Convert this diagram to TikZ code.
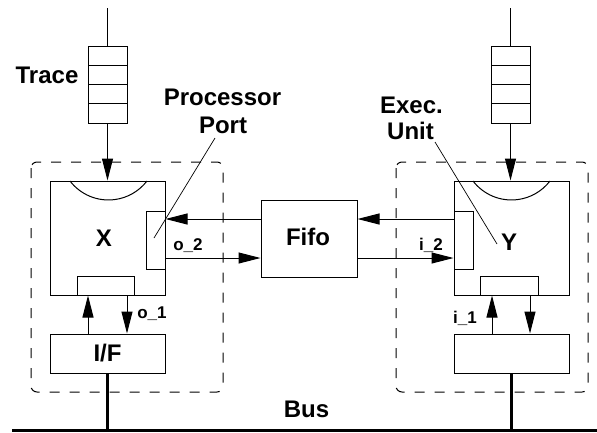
\documentclass[tikz,border=0pt]{standalone}
\usepackage{fontspec}
\setmainfont{Liberation Sans}
\usetikzlibrary{arrows.meta,calc}
\begin{document}
\begin{tikzpicture}[x=1pt,y=-1pt,
  line width=1pt,
  box/.style={draw,rectangle,inner sep=0pt,line width=1pt},
  cellbox/.style={draw,rectangle,inner sep=0pt,minimum width=39pt,minimum height=19.25pt,line width=1pt},
  arr/.style={-{Triangle[length=22pt,width=11pt]},line width=1pt},
  dashbox/.style={draw,dash pattern=on 10pt off 10pt,rounded corners=6pt,line width=1pt},
  big/.style={font=\bfseries\fontsize{24}{26}\selectfont,inner sep=0pt,anchor=base},
  small/.style={font=\bfseries\fontsize{17}{19}\selectfont,inner sep=0pt,anchor=base},
  pointer/.style={line width=0.7pt}]
\useasboundingbox (0,0) rectangle (597,432);

% dashed enclosures
\draw[dashbox] (31,162) rectangle (223,392);
\draw[dashbox] (396,162) rectangle (588,392);

% queues
\foreach \i in {1,...,4} {
  \node[cellbox] (ql\i) at (107.5,{46+19.25*(\i-0.5)}) {};
  \node[cellbox] (qr\i) at (510.5,{46+19.25*(\i-0.5)}) {};
}
\coordinate (tl) at (107.5,8);
\coordinate (tr) at (510.5,8);
\draw (tl) -- (ql1.north);
\draw (tr) -- (qr1.north);

% main boxes
\node[box,minimum width=115pt,minimum height=114pt] (X) at (107.5,238) {};
\node[box,minimum width=115pt,minimum height=114pt] (Y) at (511.5,238) {};
\node[box,fill=white,minimum width=19pt,minimum height=58pt] (Xp) at (155.5,240) {};
\node[box,fill=white,minimum width=19pt,minimum height=58pt] (Yp) at (463.5,240) {};
\node[box,minimum width=57pt,minimum height=19pt] (Xb) at (105.5,285.5) {};
\node[box,minimum width=58pt,minimum height=19pt] (Yb) at (509,285.5) {};
\node[box,minimum width=115pt,minimum height=39pt] (IF) at (107.5,353.5) {};
\node[box,minimum width=115pt,minimum height=39pt] (YF) at (511.5,353.5) {};
\node[box,minimum width=96pt,minimum height=77pt] (Fifo) at (309,238.5) {};

% arcs (execution units)
\draw (70,181) arc[start angle=142.5,end angle=37.5,radius=48.5];
\draw (473,181) arc[start angle=142.5,end angle=37.5,radius=48.5];

% queue to box arrows
\draw[arr] (ql4.south) -- (ql4.south |- X.north);
\draw[arr] (qr4.south) -- (qr4.south |- Y.north);

% fifo arrows
\coordinate (ya) at (0,219);
\coordinate (yb) at (0,258);
\draw[arr] (Fifo.west |- ya) -- (Xp.east |- ya);
\draw[arr] (Xp.east |- yb) -- (Fifo.west |- yb);
\draw[arr] (Yp.west |- ya) -- (Fifo.east |- ya);
\draw[arr] (Fifo.east |- yb) -- (Yp.west |- yb);

% interface arrows
\coordinate (xl1) at (88,0);
\coordinate (xl2) at (127,0);
\coordinate (xr1) at (492,0);
\coordinate (xr2) at (530,0);
\draw[arr] (IF.north -| xl1) -- (Xb.south -| xl1);
\draw[arr] (Xb.south -| xl2) -- (IF.north -| xl2);
\draw[arr] (YF.north -| xr1) -- (Yb.south -| xr1);
\draw[arr] (Yb.south -| xr2) -- (YF.north -| xr2);

% bus
\coordinate (busl) at (12,430);
\coordinate (busr) at (597,430);
\draw[line width=3pt] (busl) -- (busr);
\draw[line width=3pt] (IF.south) -- (IF.south |- busl);
\draw[line width=3pt] (YF.south) -- (YF.south |- busl);

% labels
\node[big] (lTrace) at (47,83) {Trace};
\node[big] (lProc) at (222.5,105) {Processor};
\node[big] (lPort) at (223,133) {Port};
\node[big] (lExec) at (411.5,113) {Exec.};
\node[big] (lUnit) at (410.5,139) {Unit};
\node[big] (lX) at (104,246) {X};
\node[big] (lY) at (509,250) {Y};
\node[big] (lFifo) at (308,245) {Fifo};
\node[big] (lIF) at (107.5,361) {I/F};
\node[big] (lBus) at (306.5,417) {Bus};
\node[small] (lo2) at (188,250) {o\_2};
\node[small] (li2) at (431,250) {i\_2};
\node[small] (lo1) at (152,318) {o\_1};
\node[small] (li1) at (465,323) {i\_1};

% pointers
\coordinate (pp) at (154,238);
\coordinate (pe) at (497,244);
\draw[pointer] (215,138) -- (pp);
\draw[pointer] (435,142) -- (pe);
\end{tikzpicture}
\end{document}
